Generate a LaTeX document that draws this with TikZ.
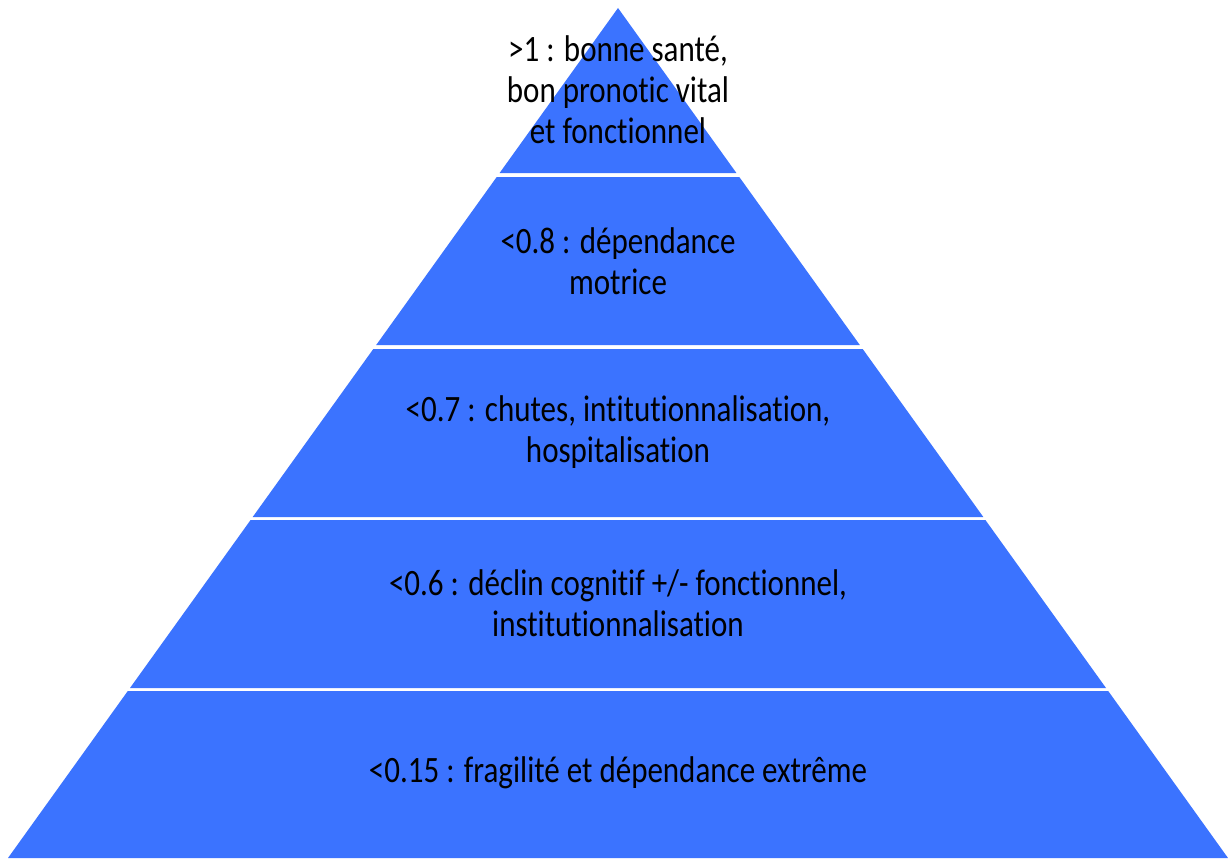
\documentclass[tikz,border=0pt]{standalone}
\usepackage{fontspec}
\setmainfont[Ligatures={NoCommon}]{Carlito}
\definecolor{pyrblue}{HTML}{3B73FF}
\begin{document}
\begin{tikzpicture}[x=1pt,y=-1pt,
  layer/.style={fill=pyrblue,draw=none},
  layertext/.style={align=center,text=black,inner sep=0pt,yscale=1.2,transform shape,
    font=\fontsize{31}{34.2}\selectfont}]
\useasboundingbox[fill=white] (0,0) rectangle (1228,859);
\fill[layer] (618,8) -- (736.4,173) -- (499.6,173) -- cycle;
\fill[layer] (496.7,177) -- (739.3,177) -- (859.8,345) -- (376.2,345) -- cycle;
\fill[layer] (373.3,349) -- (862.7,349) -- (983.3,517) -- (252.7,517) -- cycle;
\fill[layer] (250.6,520) -- (985.4,520) -- (1106,688) -- (130,688) -- cycle;
\fill[layer] (127.8,691) -- (1108.2,691) -- (1228,858) -- (8,858) -- cycle;
\node[layertext] (t1) at (618,90) {>1 : bonne santé,\\bon pronotic vital\\et fonctionnel};
\node[layertext] (t2) at (618,261) {<0.8 : dépendance\\motrice};
\node[layertext] (t3) at (618,432) {<0.7 : chutes, intitutionnalisation,\\hospitalisation};
\node[layertext] (t4) at (618,603) {<0.6 : déclin cognitif +/- fonctionnel,\\institutionnalisation};
\node[layertext] (t5) at (618,773) {<0.15 : fragilité et dépendance extrême};
\end{tikzpicture}
\end{document}
